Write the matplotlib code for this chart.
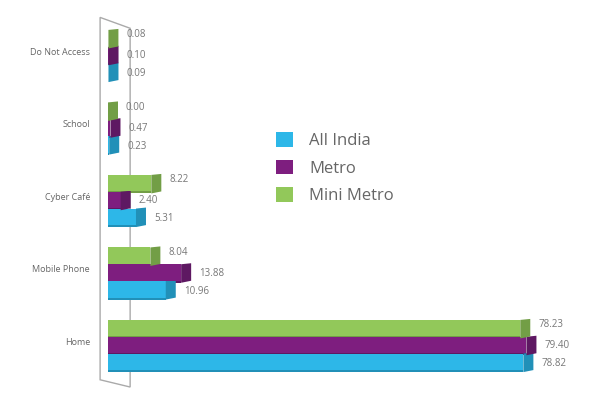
import matplotlib
matplotlib.use("Agg")
import matplotlib.pyplot as plt
from matplotlib.patches import Polygon, Patch

# data (top of chart first)
categories = ["Do Not Access", "School", "Cyber Café", "Mobile Phone", "Home"]
all_india = [0.09, 0.23, 5.31, 10.96, 78.82]
metro = [0.10, 0.47, 2.40, 13.88, 79.40]
mini_metro = [0.08, 0.00, 8.22, 8.04, 78.23]

series_names = ["All India", "Metro", "Mini Metro"]
face_colors = ["#2DB7E8", "#7E1E7F", "#92C85A"]
side_colors = ["#2190B8", "#5E1862", "#729E46"]

W, H = 597, 395
X0_PX = 108          # pixel where value 0 sits
PX_PER_UNIT = 5.27
TOP_PX = 55          # centre of first group
GROUP_PX = 72.5

fig = plt.figure(figsize=(W / 100, H / 100), dpi=100)
ax = fig.add_axes([0, 0, 1, 1])
ax.set_xlim(-X0_PX / PX_PER_UNIT, (W - X0_PX) / PX_PER_UNIT)
n = len(categories)
ax.set_ylim(n - 1 - (H - TOP_PX) / GROUP_PX, n - 1 + TOP_PX / GROUP_PX)
ax.axis("off")

depth = 10 / PX_PER_UNIT
lip = 2 / GROUP_PX
bar_h = 0.228
offsets = [-0.232, 0.0, 0.232]   # all india bottom, mini metro top
label_dy = [-0.03, -0.01, 0.05]
ypos = [n - 1 - i for i in range(n)]

# back wall
wall_x = [-1.5, 4.2]
y_lo, y_hi = ax.get_ylim()
wall = Polygon([(wall_x[0], y_hi - 0.24), (wall_x[1], y_hi - 0.39),
                (wall_x[1], y_lo + 0.11), (wall_x[0], y_lo + 0.21)],
               closed=True, fill=False, edgecolor="#AAAAAA", lw=1.0, zorder=1)
ax.add_patch(wall)

for s, vals in enumerate([all_india, metro, mini_metro]):
    ys = [y + offsets[s] for y in ypos]
    ax.barh(ys, vals, height=bar_h, left=0, color=face_colors[s], zorder=3)
    for y, v in zip(ys, vals):
        y0, y1 = y - bar_h / 2, y + bar_h / 2
        side = Polygon([(v, y0 - lip), (v + depth, y0),
                        (v + depth, y1 + lip * 0.5), (v, y1)],
                       closed=True, color=side_colors[s], lw=0, zorder=3)
        ax.add_patch(side)
        ax.barh(y0 - lip / 2, v, height=lip, left=0, color=side_colors[s],
                lw=0, zorder=2)
        ax.text(v + depth + 8 / PX_PER_UNIT, y + label_dy[s], f"{v:.2f}",
                ha="left", va="center", fontsize=7, color="#777777",
                family="Open Sans", zorder=4)

for y, c in zip(ypos, categories):
    ax.text(-3.4, y + 0.04, c, ha="right", va="center", fontsize=6.5,
            color="#666666", family="Open Sans")

handles = [Patch(facecolor=c, edgecolor="none") for c in face_colors]
leg = ax.legend(handles, series_names, loc="upper left",
                bbox_to_anchor=(276 / W, 1 - 132 / H), frameon=False,
                handlelength=1, handleheight=1,
                handletextpad=1.0, labelspacing=0.62, borderpad=0,
                borderaxespad=0, prop={"family": "Open Sans", "size": 12})
for t in leg.get_texts():
    t.set_color("#666666")

fig.savefig("out.png", dpi=100, facecolor="white")
